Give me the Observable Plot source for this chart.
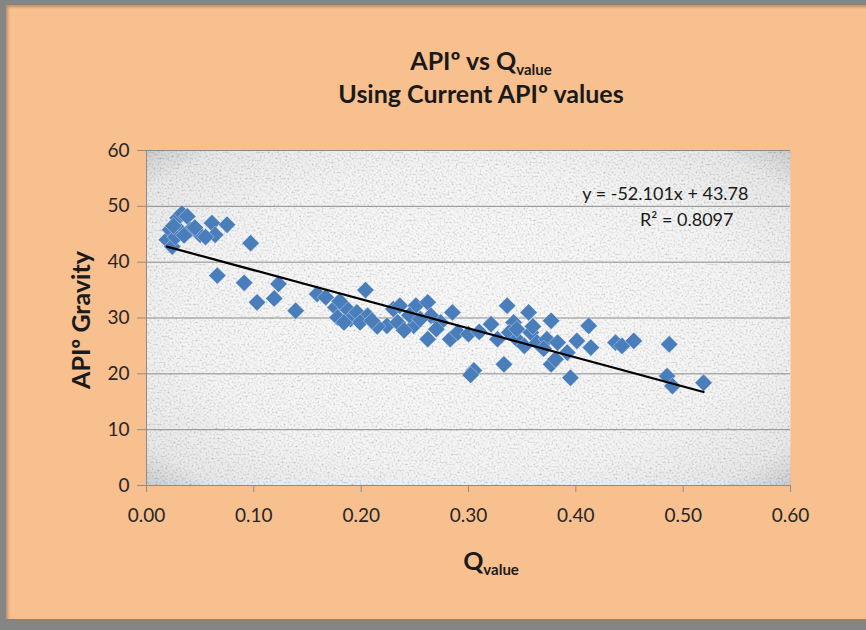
<!DOCTYPE html>
<html>
<head>
<meta charset="utf-8">
<script src="https://cdn.jsdelivr.net/npm/d3@7"></script>
<script src="https://cdn.jsdelivr.net/npm/@observablehq/plot@0.6"></script>
<style>
  body { margin: 0; background: #ffffff; }
  #wrap { position: relative; width: 866px; height: 630px; overflow: hidden; background: #858585; font-family: Lato, "Open Sans", sans-serif; }
  #panel { position: absolute; left: 6px; top: 5px; width: 860px; height: 614px; background: #F9C08F; box-shadow: inset 2px 2px 3px rgba(0,0,0,0.25); }
  #chart { position: absolute; left: 0; top: 0; }
  .ttl { position: absolute; left: 48px; width: 866px; text-align: center; font-weight: bold; font-size: 25px; color: #1a1a1a; line-height: 30px; }
  .ttl sub, .xl sub { font-size: 0.6em; vertical-align: -0.3em; }
  .xl { position: absolute; left: 0; width: 982px; text-align: center; font-weight: bold; font-size: 25px; color: #1a1a1a; top: 545px; line-height: 30px; }
  .yl { position: absolute; left: 80px; top: 320px; transform: translate(-50%, -50%) rotate(-90deg); font-weight: bold; font-size: 25px; color: #1a1a1a; white-space: nowrap; }
</style>
</head>
<body>
<div id="wrap">
  <div id="panel"></div>
  <div class="ttl" style="top:45px">APIº vs Q<sub>value</sub></div>
  <div class="ttl" style="top:78px">Using Current APIº values</div>
  <div class="yl">APIº Gravity</div>
  <div class="xl">Q<sub>value</sub></div>
  <div id="chart"></div>
</div>
<script>
// ---- data ----
const qValues = [
  0.019, 0.024, 0.022, 0.029, 0.033, 0.038, 0.032, 0.041, 0.050, 0.061,
  0.064, 0.075, 0.097, 0.066, 0.091, 0.103, 0.119, 0.123, 0.027, 0.045,
  0.055, 0.035, 0.025, 0.139, 0.159, 0.167, 0.204, 0.176, 0.178, 0.187,
  0.190, 0.196, 0.206, 0.199, 0.184, 0.224, 0.230, 0.234, 0.236, 0.251,
  0.262, 0.249, 0.262, 0.265, 0.274, 0.285, 0.283, 0.290, 0.300, 0.305,
  0.302, 0.321, 0.327, 0.333, 0.336, 0.342, 0.338, 0.345, 0.356, 0.377,
  0.345, 0.358, 0.352, 0.364, 0.373, 0.383, 0.377, 0.381, 0.395, 0.401,
  0.412, 0.414, 0.392, 0.437, 0.443, 0.454, 0.487, 0.485, 0.490, 0.519,
  0.245, 0.255, 0.270, 0.215, 0.240, 0.370, 0.360, 0.310, 0.210, 0.180
];
const apiValues = [
  44.0, 42.8, 45.8, 47.9, 48.7, 48.2, 45.5, 45.8, 44.9, 47.0,
  44.9, 46.7, 43.4, 37.6, 36.3, 32.8, 33.5, 36.1, 44.5, 46.2,
  44.5, 44.8, 46.5, 31.3, 34.3, 33.7, 35.0, 31.9, 30.1, 31.6,
  29.8, 31.0, 30.4, 29.2, 29.2, 28.6, 31.6, 29.2, 32.2, 32.2,
  32.8, 28.6, 26.2, 30.4, 29.2, 31.0, 26.2, 27.4, 27.1, 20.6,
  19.8, 28.9, 26.2, 21.7, 32.2, 29.2, 27.4, 26.2, 31.0, 29.5,
  28.0, 27.4, 25.0, 25.6, 26.2, 25.6, 21.7, 22.6, 19.3, 25.9,
  28.6, 24.7, 23.8, 25.6, 25.0, 25.9, 25.3, 19.6, 17.8, 18.4,
  30.5, 29.8, 28.0, 28.5, 27.8, 24.5, 28.5, 27.5, 29.5, 33.0
];
const xTicks = [0, 0.1, 0.2, 0.3, 0.4, 0.5, 0.6];
const yTicks = [0, 10, 20, 30, 40, 50, 60];
const trendSlope = -52.101;
const trendIntercept = 43.78;
const trendR2 = 0.8097;

const points = qValues.map((q, i) => ({q, api: apiValues[i]}));
const qExtent = d3.extent(qValues);
const trend = qExtent.map(q => ({q, api: trendSlope * q + trendIntercept}));

const chart = Plot.plot({
  width: 866,
  height: 630,
  marginLeft: 146,
  marginRight: 76,
  marginTop: 150,
  marginBottom: 145,
  style: { background: "transparent", fontFamily: "Lato, 'Open Sans', sans-serif", fontSize: "19px", color: "#262626", overflow: "visible" },
  x: { domain: [0, 0.6] },
  y: { domain: [0, 60] },
  marks: [
    Plot.frame({ fill: "url(#plotbg)", stroke: "none" }),
    Plot.ruleY(yTicks, { stroke: "#8c8c8c", strokeWidth: 1 }),
    Plot.ruleX([0], { stroke: "#8c8c8c", strokeWidth: 1 }),
    Plot.axisX({ ticks: xTicks, tickFormat: d3.format(".2f"), tickSize: 7, tickPadding: 16, stroke: "#8c8c8c", fill: "#262626", label: null }),
    Plot.axisY({ ticks: yTicks, tickSize: 9, tickPadding: 8, stroke: "#8c8c8c", fill: "#262626", label: null }),
    Plot.dot(points, { x: "q", y: "api", symbol: "diamond2", r: 7.8, fill: "#4A7EBB", stroke: "#ffffff", strokeOpacity: 0.35, strokeWidth: 1 }),
    Plot.line(trend, { x: "q", y: "api", stroke: "#000000", strokeWidth: 2.2 }),
    Plot.text([`y = ${trendSlope}x + ${trendIntercept}`], { frameAnchor: "top-right", dx: -42, dy: 37, textAnchor: "end", fontSize: 18, fill: "#1a1a1a" }),
    Plot.text([`R² = ${trendR2}`], { frameAnchor: "top-right", dx: -57, dy: 63, textAnchor: "end", fontSize: 18, fill: "#1a1a1a" })
  ]
});

document.getElementById("chart").appendChild(chart);

// background gradient + texture for the plot area
const svg = d3.select(chart);
svg.insert("defs", ":first-child").html(`
  <radialGradient id="plotbg" cx="50%" cy="50%" r="72%">
    <stop offset="0%" stop-color="#f7f7f7"/>
    <stop offset="62%" stop-color="#f0f0f0"/>
    <stop offset="87%" stop-color="#e0e0e0"/>
    <stop offset="100%" stop-color="#b4b4b4"/>
  </radialGradient>
  <filter id="noise" x="0" y="0" width="1" height="1">
    <feTurbulence type="fractalNoise" baseFrequency="0.5" numOctaves="2" seed="7" result="t"/>
    <feColorMatrix in="t" type="matrix" values="2.2 0 0 0 -0.25  2.2 0 0 0 -0.25  2.2 0 0 0 -0.25  0 0 0 0 0.3"/>
  </filter>`);
const frameNode = chart.querySelector('rect[aria-label="frame"], g[aria-label="frame"] rect');
if (frameNode) {
  const bb = frameNode.getBBox();
  const anchor = frameNode.closest('g[aria-label="frame"]') || frameNode;
  d3.select(anchor.parentNode).insert("rect", () => anchor.nextSibling)
    .attr("x", bb.x).attr("y", bb.y).attr("width", bb.width).attr("height", bb.height)
    .attr("fill", "#fff").attr("filter", "url(#noise)");
}
</script>
</body>
</html>
